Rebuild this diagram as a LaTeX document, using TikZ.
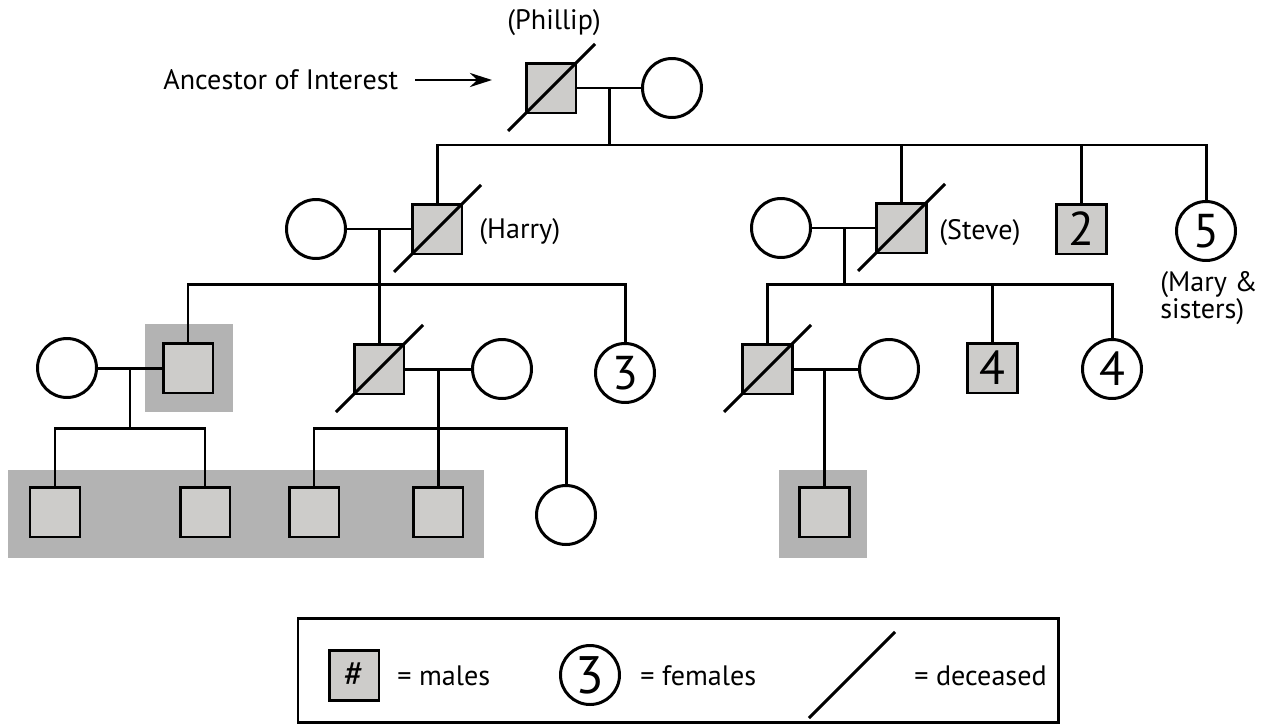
\documentclass[tikz,border=0pt]{standalone}
\usepackage{fontspec}
\setmainfont{PT Sans}
\usetikzlibrary{arrows.meta}
\definecolor{mfill}{RGB}{205,204,202}
\definecolor{hl}{RGB}{179,179,179}
\tikzset{
  male/.style={draw, fill=mfill, line width=1.7pt, minimum width=1.0cm, minimum height=1.0cm, inner sep=0pt, font=\fontsize{27}{27}\selectfont},
  female/.style={circle, draw, fill=white, line width=1.7pt, minimum size=1.18cm, inner sep=0pt, font=\fontsize{27}{27}\selectfont},
  link/.style={line width=1.7pt},
  slashline/.style={line width=1.7pt},
  lbl/.style={font=\fontsize{16}{15.4}\selectfont, inner sep=0pt},
}
\newcommand{\deceased}[1]{\draw[slashline] ([shift={(-43,43)}]#1.center) -- ([shift={(44,-44)}]#1.center);}
\begin{document}
\begin{tikzpicture}[x=0.02cm,y=-0.02cm]
\useasboundingbox (0,0) rectangle (1263,727);
% highlights
\fill[hl] (145,324) rectangle (233,412);
\fill[hl] (8,470) rectangle (484,558);
\fill[hl] (779,470) rectangle (867,558);

% Generation 1
\node[male] (P) at (551,88) {};
\node[female] (Pw) at (672,88) {};
\coordinate (Pm) at (609,88);
\coordinate (Ps) at (609,145);
\node[lbl] (phl) at (554,23) {(Phillip)};
\node[lbl, anchor=west] (anc) at (163,80) {Ancestor of Interest};
\coordinate (arrS) at (415,80);
\coordinate (arrE) at (492,80);
\draw[line width=1.7pt, -{Stealth[length=4.4mm,width=2.8mm]}] (arrS) -- (arrE);

% Generation 2
\node[male] (H) at (437,229) {};
\node[female] (Hw) at (316,229) {};
\node[male] (S) at (901,228) {};
\node[female] (Sw) at (781,228) {};
\node[male] (B2) at (1081,229) {2};
\node[female] (F5) at (1206,231) {5};
\node[lbl, anchor=west] (hl1) at (479,232) {(Harry)};
\node[lbl, anchor=west] (sl1) at (939,233) {(Steve)};
\node[lbl, anchor=west, align=left] (ml) at (1160,298) {(Mary \&\\sisters)};

\draw[link] (P) -- (Pw);
\draw[link] (Pm) -- (Ps);
\draw[link] (H.north) -- (H.north |- Ps) -- (F5.north |- Ps) -- (F5.north);
\draw[link] (S.north) -- (S.north |- Ps);
\draw[link] (B2.north) -- (B2.north |- Ps);

% Harry's family
\coordinate (Hm) at (379,229);
\coordinate (Hs) at (379,284);
\node[male] (G1) at (188,368) {};
\node[male] (HS) at (379,369) {};
\node[female] (F3) at (625,373) {3};
\draw[link] (Hw) -- (H);
\draw[link] (Hm) -- (HS.north);
\draw[link] (G1.north) -- (G1.north |- Hs) -- (F3.north |- Hs) -- (F3.north);

% Steve's family
\coordinate (Sm) at (844,228);
\coordinate (Ss) at (844,284);
\node[male] (SS) at (767,369) {};
\node[male] (B4) at (992,368) {4};
\node[female] (F4) at (1112,369) {4};
\draw[link] (Sw) -- (S);
\draw[link] (Sm) -- (Ss);
\draw[link] (SS.north) -- (SS.north |- Ss) -- (F4.north |- Ss) -- (F4.north);
\draw[link] (B4.north) -- (B4.north |- Ss);

% G1 family
\node[female] (G1w) at (67,368) {};
\coordinate (Gm) at (130,368);
\coordinate (Gs) at (130,428);
\node[male] (g1) at (55,512) {};
\node[male] (g2) at (205,512) {};
\draw[link] (G1w) -- (G1);
\draw[link] (Gm) -- (Gs);
\draw[link] (g1.north) -- (g1.north |- Gs) -- (g2.north |- Gs) -- (g2.north);

% HS family
\node[female] (HSw) at (502,369) {};
\coordinate (HSm) at (438,369);
\coordinate (HSs) at (438,428);
\node[male] (g3) at (314,512) {};
\node[male] (g4) at (438,512) {};
\node[female] (g5) at (566,515) {};
\draw[link] (HS) -- (HSw);
\draw[link] (HSm) -- (g4.north);
\draw[link] (g3.north) -- (g3.north |- HSs) -- (g5.north |- HSs) -- (g5.north);

% SS family
\node[female] (SSw) at (889,369) {};
\coordinate (SSm) at (824,369);
\node[male] (g6) at (824,512) {};
\draw[link] (SS) -- (SSw);
\draw[link] (SSm) -- (g6.north);

% deceased marks
\deceased{P}
\deceased{H}
\deceased{S}
\deceased{HS}
\deceased{SS}

% Legend
\draw[line width=1.7pt] (298,618) rectangle (1058,722);
\node[male, font=\fontsize{21}{21}\selectfont] (Lm) at (354,675) {\#};
\node[lbl, anchor=west] (Lmt) at (397,676) {= males};
\node[female, font=\fontsize{30}{30}\selectfont] (Lf) at (590,675) {3};
\node[lbl, anchor=west] (Lft) at (640,676) {= females};
\coordinate (Ld1) at (809,718);
\coordinate (Ld2) at (895,632);
\draw[slashline] (Ld1) -- (Ld2);
\node[lbl, anchor=west] (Ldt) at (914,676) {= deceased};
\end{tikzpicture}
\end{document}
